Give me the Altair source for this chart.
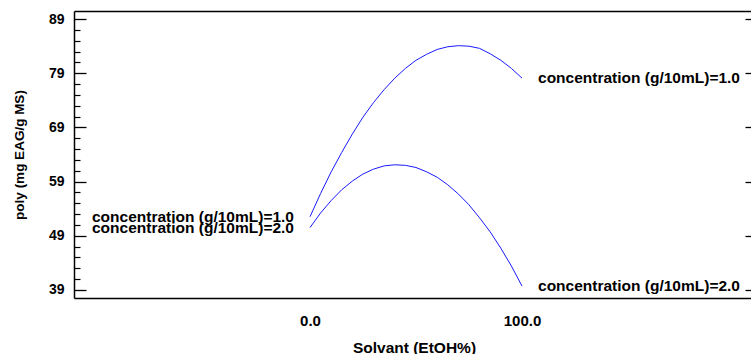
import altair as alt
import pandas as pd

# ---- data ----
solvant = [0, 5, 10, 15, 20, 25, 30, 35, 40, 45, 50, 55, 60, 65, 70, 75, 80, 85, 90, 95, 100]
poly_c1 = [52.5, 56.8, 60.8, 64.4, 67.8, 70.9, 73.6, 76.0, 78.1, 79.9, 81.4, 82.5, 83.4, 83.9,
           84.1, 84.0, 83.6, 82.6, 81.4, 79.9, 78.1]
poly_c2 = [50.5, 53.2, 55.5, 57.5, 59.1, 60.4, 61.3, 61.9, 62.1, 62.0, 61.6, 60.8, 59.8, 58.4,
           56.7, 54.7, 52.3, 49.7, 46.7, 43.4, 39.7]
series_names = ["concentration (g/10mL)=1.0", "concentration (g/10mL)=2.0"]
y_major = [39, 49, 59, 69, 79, 89]
y_minor = [41, 43, 45, 47, 51, 53, 55, 57, 61, 63, 65, 67, 71, 73, 75, 77, 81, 83, 85, 87]
x_ticks = [0, 100]
x_domain = [-111.3, 208.0]
y_domain = [37.5, 90.5]

rows = []
for name, vals in zip(series_names, [poly_c1, poly_c2]):
    for xv, yv in zip(solvant, vals):
        rows.append({"x": xv, "y": yv, "series": name})
df = pd.DataFrame(rows)

left_lab = pd.DataFrame({"x": [solvant[0]] * 2, "y": [poly_c1[0], poly_c2[0]], "label": series_names})
right_lab = pd.DataFrame({"x": [solvant[-1]] * 2, "y": [poly_c1[-1], poly_c2[-1]], "label": series_names})

FONT = "Liberation Sans"
xscale = alt.Scale(domain=x_domain, nice=False, zero=False)
yscale = alt.Scale(domain=y_domain, nice=False, zero=False)

line = alt.Chart(df).mark_line(color="#1a1aff", strokeWidth=1).encode(
    x=alt.X("x:Q", scale=xscale, axis=alt.Axis(
        orient="bottom", values=x_ticks, format=".1f", ticks=False, tickSize=0,
        labelPadding=22, labelBaseline="middle", labelFontSize=15,
        domain=True, domainColor="black", domainWidth=1.5, grid=False,
        title="Solvant (EtOH%)", titleX=340, titleY=49, titleBaseline="middle",
        titleAlign="center", titleFontSize=15.5)),
    y=alt.Y("y:Q", scale=yscale, axis=alt.Axis(
        orient="left", values=y_major, ticks=False, tickSize=0, labelPadding=10,
        labelFontSize=14, domain=True, domainColor="black", domainWidth=1.5, grid=False,
        title="poly (mg EAG/g MS)", titleX=-55, titleY=143.5, titleBaseline="middle",
        titleAlign="center", titleFontSize=13.5)),
    detail="series:N",
)

text_left = alt.Chart(left_lab).mark_text(
    align="right", baseline="middle", dx=-16, fontSize=15.5, font=FONT, fontWeight="bold", color="black"
).encode(
    x=alt.X("x:Q", scale=xscale, axis=alt.Axis(
        orient="top", domain=True, domainColor="black", domainWidth=1.5, ticks=False,
        labels=False, grid=False, title=None)),
    y=alt.Y("y:Q", scale=yscale, axis=alt.Axis(
        orient="left", values=y_major, offset=-12, tickSize=12, tickWidth=1.3, tickColor="black",
        domain=False, labels=False, grid=False, title=None)),
    text="label:N",
)

text_right = alt.Chart(right_lab).mark_text(
    align="left", baseline="middle", dx=16, fontSize=15.5, font=FONT, fontWeight="bold", color="black"
).encode(
    x=alt.X("x:Q", scale=xscale, axis=None),
    y=alt.Y("y:Q", scale=yscale, axis=alt.Axis(
        orient="left", values=y_minor, offset=-6, tickSize=6, tickWidth=1.2, tickColor="black",
        domain=False, labels=False, grid=False, title=None)),
    text="label:N",
)

right_ticks = alt.Chart(df).mark_point(opacity=0).encode(
    x=alt.X("x:Q", scale=xscale, axis=None),
    y=alt.Y("y:Q", scale=yscale, axis=alt.Axis(
        orient="right", values=y_major, offset=-6, tickSize=6, tickWidth=1.3, tickColor="black",
        domain=False, labels=False, grid=False, title=None)),
)

chart = alt.layer(line, text_left, text_right, right_ticks).resolve_axis(
    x="independent", y="independent"
).properties(
    width=677, height=287,
    autosize=alt.AutoSizeParams(type="none"),
    padding={"left": 74, "top": 11, "right": 0, "bottom": 56},
    background="white",
).configure_view(stroke="transparent").configure_axis(
    labelFont=FONT, labelFontWeight="bold", labelColor="black",
    titleFont=FONT, titleFontWeight="bold", titleColor="black",
)

chart.save("out.html", embed_options={"renderer": "svg", "actions": False})
